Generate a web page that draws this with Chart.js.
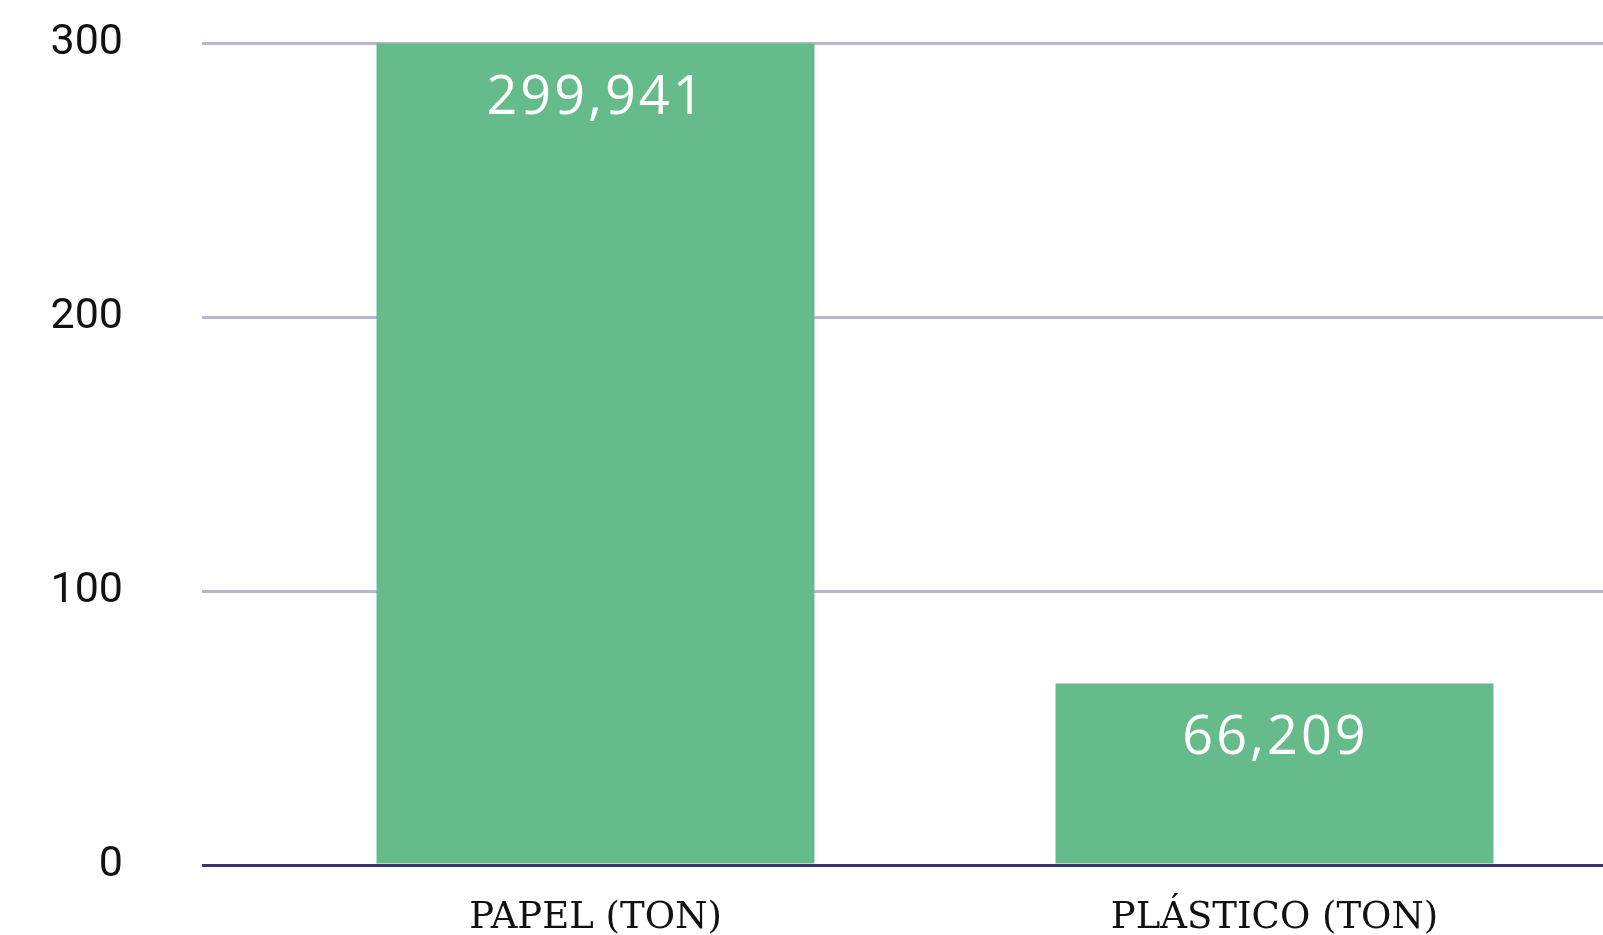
<!DOCTYPE html>
<html>
<head>
<meta charset="utf-8">
<script src="https://cdn.jsdelivr.net/npm/chart.js@4/dist/chart.umd.min.js"></script>
<style>
  html, body { margin: 0; padding: 0; background: #ffffff; overflow: hidden; width: 1603px; height: 935px; }
  canvas { display: block; }
</style>
</head>
<body>
<canvas id="c" width="1614" height="935"></canvas>
<script>
const categories = ['PAPEL (TON)', 'PLÁSTICO (TON)'];
const values = [299.941, 66.209];
const yTicks = [0, 100, 200, 300];

const barColor = '#66bb8a';
const gridColor = '#bab6cb';
const baseColor = '#3f3170';

const valueLabels = {
  id: 'valueLabels',
  afterDatasetsDraw(chart) {
    const ctx = chart.ctx;
    const meta = chart.getDatasetMeta(0);
    ctx.save();
    ctx.fillStyle = '#ffffff';
    ctx.font = '500 54px "Open Sans"';
    if ('letterSpacing' in ctx) ctx.letterSpacing = '3px';
    ctx.textAlign = 'center';
    ctx.textBaseline = 'middle';
    meta.data.forEach((el, i) => {
      const txt = values[i].toFixed(3).replace('.', ',');
      ctx.fillText(txt, el.x + 1, el.y + 55);
    });
    ctx.restore();
  }
};

new Chart(document.getElementById('c'), {
  type: 'bar',
  data: {
    labels: categories,
    datasets: [{
      data: values,
      backgroundColor: barColor,
      borderWidth: 0,
      categoryPercentage: 1,
      barPercentage: 0.645
    }]
  },
  options: {
    responsive: false,
    animation: false,
    devicePixelRatio: 1,
    layout: { padding: { top: 43, left: 0, right: 0, bottom: 0 } },
    plugins: { legend: { display: false }, tooltip: { enabled: false } },
    scales: {
      x: {
        grid: { display: false, drawTicks: false },
        border: { display: false },
        ticks: {
          color: '#111111',
          font: { family: '"DejaVu Serif"', size: 37 },
          padding: 31
        },
        afterFit(scale) { scale.height = 70; scale.paddingLeft = 0; scale.paddingRight = 0; }
      },
      y: {
        min: 0,
        max: 300,
        afterBuildTicks(scale) { scale.ticks = yTicks.map(v => ({ value: v })); },
        grid: {
          color: (c) => (c.tick && c.tick.value === 0 ? baseColor : gridColor),
          lineWidth: 3,
          tickLength: 54
        },
        border: { display: false },
        ticks: {
          color: '#111111',
          font: { family: 'Roboto', size: 43 },
          padding: 79
        },
        afterFit(scale) { scale.width = 256; scale.paddingTop = 0; scale.paddingBottom = 0; }
      }
    }
  },
  plugins: [valueLabels]
});
</script>
</body>
</html>
